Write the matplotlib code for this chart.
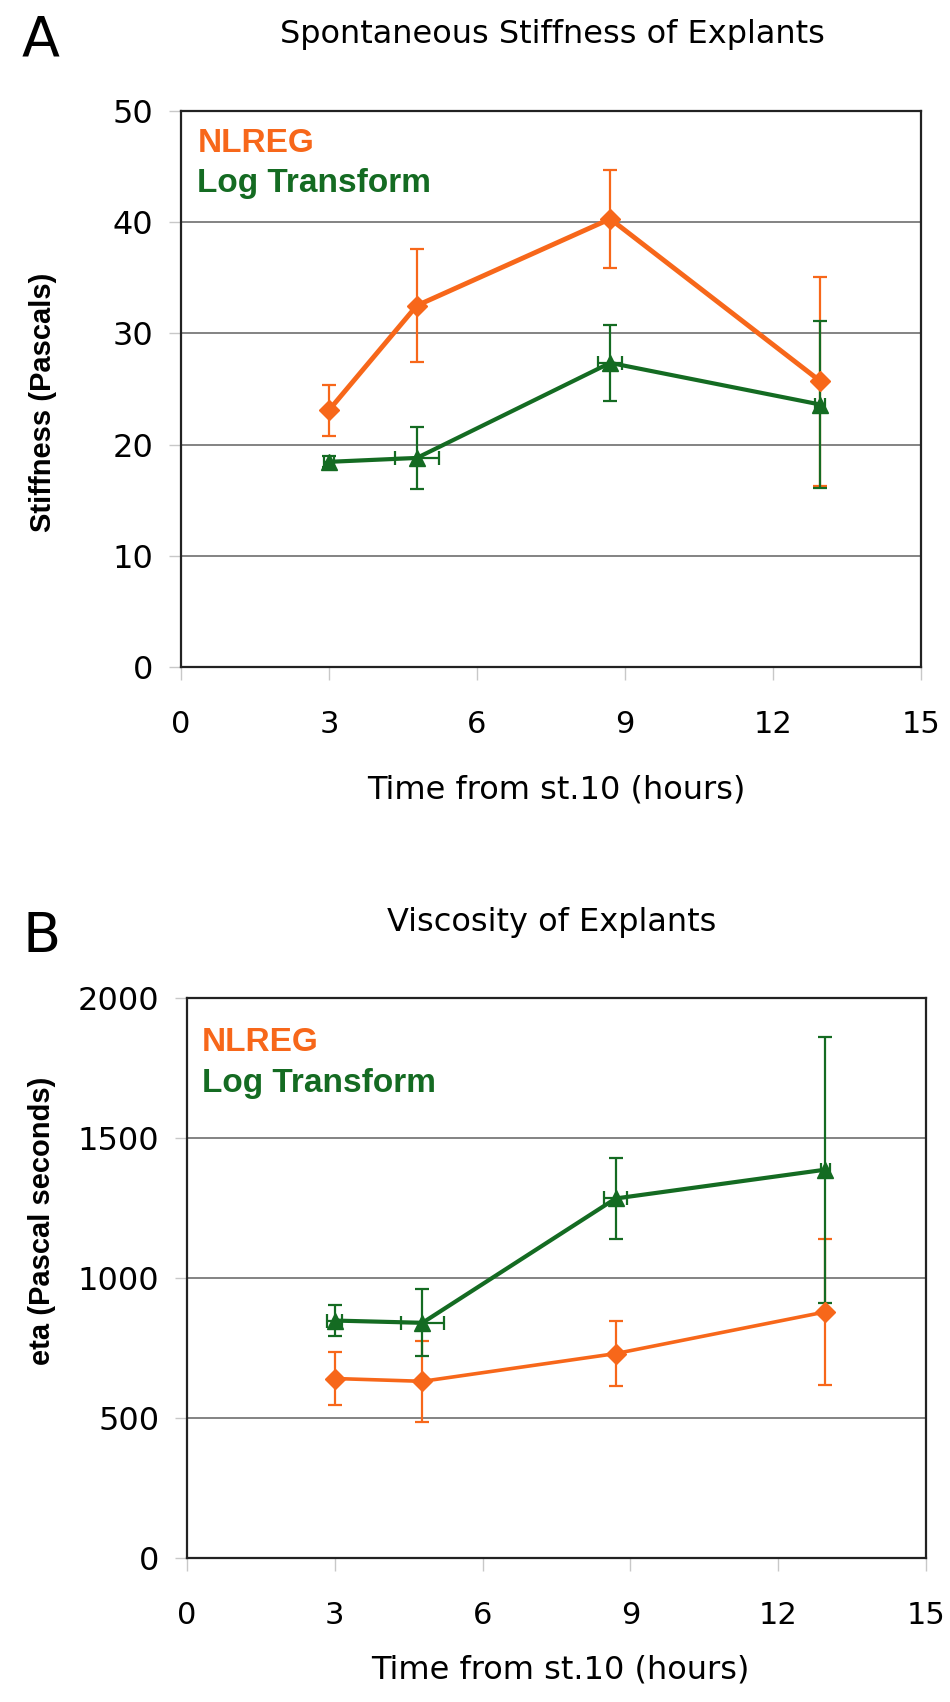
import matplotlib
matplotlib.use("Agg")
import matplotlib.pyplot as plt

# 測定時刻（st.10からの時間）
time_h = [3.0, 4.78, 8.7, 12.96]

# A: stiffness (Pascals)
stiff_nlreg = [23.1, 32.5, 40.3, 25.7]
stiff_nlreg_err = [2.3, 5.1, 4.4, 9.4]
stiff_log = [18.45, 18.8, 27.35, 23.6]
stiff_log_err = [0.5, 2.8, 3.4, 7.5]
stiff_log_xerr = [0.1, 0.45, 0.24, 0.1]

# B: viscosity eta (Pascal seconds)
eta_nlreg = [641, 631, 730, 879]
eta_nlreg_err = [95, 144, 117, 262]
eta_log = [848, 840, 1284, 1387]
eta_log_err = [56, 120, 145, 475]
eta_log_xerr = [0.15, 0.43, 0.23, 0.1]

x_ticks = [0, 3, 6, 9, 12, 15]
stiff_ticks = [0, 10, 20, 30, 40, 50]
eta_ticks = [0, 500, 1000, 1500, 2000]

ORANGE = '#f7671a'
GREEN = '#146b22'
BOLD_FONT = ['Liberation Sans', 'DejaVu Sans']

W, H = 950, 1702


def px_axes(fig, left, right, top, bottom):
    # ピクセル座標から軸を作る
    return fig.add_axes([left / W, 1 - bottom / H, (right - left) / W, (bottom - top) / H])


def draw_panel(ax, y_nl, y_nl_err, y_lg, y_lg_err, x_lg_err, yticks, lw_nl, lw_lg):
    ax.set_xlim(0, 15)
    ax.set_ylim(yticks[0], yticks[-1])
    ax.set_xticks(x_ticks)
    ax.set_yticks(yticks)
    for t in yticks[1:-1]:
        ax.axhline(t, color='#7a7a7a', lw=1.3, zorder=1)

    ax.errorbar(time_h, y_nl, yerr=y_nl_err, fmt='none', ecolor=ORANGE,
                elinewidth=1.6, capsize=5, capthick=1.6, zorder=3)
    ax.plot(time_h, y_nl, color=ORANGE, lw=lw_nl, marker='D', markersize=10,
            zorder=4)

    ax.errorbar(time_h, y_lg, yerr=y_lg_err, xerr=x_lg_err, fmt='none',
                ecolor=GREEN, elinewidth=1.6, capsize=5, capthick=1.6, zorder=3)
    ax.plot(time_h, y_lg, color=GREEN, lw=lw_lg, marker='^', markersize=11,
            zorder=4)

    for s in ['top', 'bottom', 'left', 'right']:
        ax.spines[s].set_linewidth(1.6)
        ax.spines[s].set_color('#222222')
    ax.tick_params(axis='both', direction='out', length=9, width=1,
                   color='#c8c8c8', labelsize=23, top=False, right=False)
    ax.tick_params(axis='x', pad=22, labelsize=22)
    ax.tick_params(axis='y', pad=11)


fig = plt.figure(figsize=(W / 100, H / 100), dpi=100)

# ---- A ----
axA = px_axes(fig, 181, 921, 111, 667)
draw_panel(axA, stiff_nlreg, stiff_nlreg_err, stiff_log, stiff_log_err,
           stiff_log_xerr, stiff_ticks, 3.5, 3.0)
axA.text(0.022, 0.926, 'NLREG', transform=axA.transAxes, color=ORANGE,
         fontsize=24, fontweight='bold', family=BOLD_FONT, va='baseline')
axA.text(0.022, 0.854, 'Log Transform', transform=axA.transAxes, color=GREEN,
         fontsize=24, fontweight='bold', family=BOLD_FONT, va='baseline')

fig.text(22 / W, 1 - 55 / H, 'A', fontsize=40, va='baseline')
fig.text(552 / W, 1 - 43 / H, 'Spontaneous Stiffness of Explants', fontsize=23,
         ha='center', va='baseline')
fig.text(556 / W, 1 - 790 / H, 'Time from st.10 (hours)', fontsize=23,
         ha='center', va='center')
fig.text(43 / W, 1 - 402 / H, 'Stiffness (Pascals)', fontsize=21,
         fontweight='bold', family=BOLD_FONT, rotation=90, ha='center', va='center')

# ---- B ----
axB = px_axes(fig, 187, 926, 998, 1558)
draw_panel(axB, eta_nlreg, eta_nlreg_err, eta_log, eta_log_err,
           eta_log_xerr, eta_ticks, 2.6, 3.0)
axB.text(0.02, 0.905, 'NLREG', transform=axB.transAxes, color=ORANGE,
         fontsize=24, fontweight='bold', family=BOLD_FONT, va='baseline')
axB.text(0.02, 0.832, 'Log Transform', transform=axB.transAxes, color=GREEN,
         fontsize=24, fontweight='bold', family=BOLD_FONT, va='baseline')

fig.text(22 / W, 1 - 952 / H, 'B', fontsize=40, va='baseline')
fig.text(552 / W, 1 - 931 / H, 'Viscosity of Explants', fontsize=23,
         ha='center', va='baseline')
fig.text(560 / W, 1 - 1670 / H, 'Time from st.10 (hours)', fontsize=23,
         ha='center', va='center')
fig.text(42 / W, 1 - 1221 / H, 'eta (Pascal seconds)', fontsize=21,
         fontweight='bold', family=BOLD_FONT, rotation=90, ha='center', va='center')

plt.savefig('out.png', dpi=100)
